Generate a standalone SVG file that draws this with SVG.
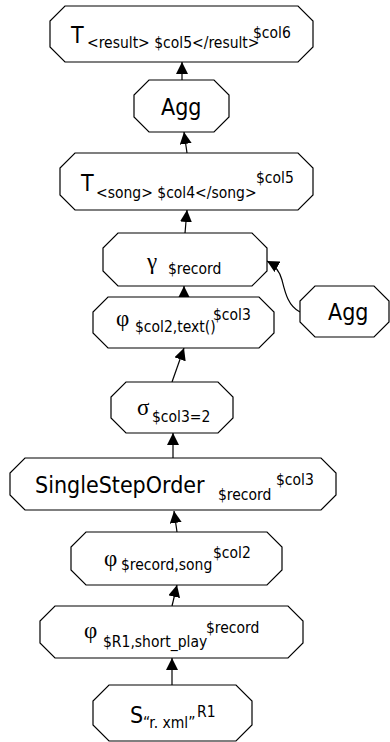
<svg xmlns="http://www.w3.org/2000/svg" width="390" height="742" viewBox="0 0 390 742">
  <style>
    .node { fill: #fff; stroke: #000; stroke-width: 1.2; }
    .edge { fill: none; stroke: #000; stroke-width: 1.2; }
    text { font-family: "DejaVu Sans Condensed", "DejaVu Sans", sans-serif; font-stretch: condensed; fill: #000; }
    .big { font-size: 23px; }
    .sm { font-size: 15.5px; }
    .gr { font-family: "Liberation Serif", "DejaVu Serif", serif; font-stretch: normal; font-size: 23px; }
  </style>
  <defs>
    <marker id="arrow" viewBox="0 0 12 12" refX="12" refY="6" markerWidth="12" markerHeight="12" markerUnits="userSpaceOnUse" orient="auto">
      <path d="M0,0 L12,6 L0,12 Z" fill="#000"/>
    </marker>
  </defs>

  <!-- connectors: each points from the child operator up to its parent -->
  <g id="edges">
    <line class="edge" x1="182" y1="80" x2="182" y2="62" marker-end="url(#arrow)"/>
    <line class="edge" x1="187" y1="153" x2="184" y2="132" marker-end="url(#arrow)"/>
    <line class="edge" x1="185" y1="233" x2="187" y2="210" marker-end="url(#arrow)"/>
    <line class="edge" x1="184" y1="297" x2="184" y2="286" marker-end="url(#arrow)"/>
    <line class="edge" x1="172" y1="382" x2="184" y2="348" marker-end="url(#arrow)"/>
    <line class="edge" x1="173" y1="458" x2="173" y2="433" marker-end="url(#arrow)"/>
    <line class="edge" x1="177" y1="532" x2="174" y2="511" marker-end="url(#arrow)"/>
    <line class="edge" x1="172" y1="606" x2="177" y2="585" marker-end="url(#arrow)"/>
    <line class="edge" x1="172" y1="685" x2="172" y2="658" marker-end="url(#arrow)"/>
    <path class="edge" d="M300,312 C288,306 285,292 282,280 C280,272 276,266 267,261" marker-end="url(#arrow)"/>
  </g>

  <g id="n-result">
    <path class="node" d="M65,6 H298 L313,21 V47 L298,62 H65 L50,47 V21 Z"/>
    <text class="big" x="71" y="43">T</text>
    <text class="sm" x="87" y="48">&lt;result&gt; $col5&lt;/result&gt;</text>
    <text class="sm" x="253" y="38">$col6</text>
  </g>

  <g id="n-agg-top">
    <path class="node" d="M149,80 H214 L229,95 V117 L214,132 H149 L134,117 V95 Z"/>
    <text class="big" x="161" y="115">Agg</text>
  </g>

  <g id="n-song">
    <path class="node" d="M75,153 H298 L313,168 V195 L298,210 H75 L60,195 V168 Z"/>
    <text class="big" x="81" y="191">T</text>
    <text class="sm" x="96" y="198">&lt;song&gt; $col4&lt;/song&gt;</text>
    <text class="sm" x="256" y="183">$col5</text>
  </g>

  <g id="n-gamma">
    <path class="node" d="M118,233 H252 L267,248 V271 L252,286 H118 L103,271 V248 Z"/>
    <text class="gr" x="147" y="269">γ</text>
    <text class="sm" x="168" y="274">$record</text>
  </g>

  <g id="n-agg-side">
    <path class="node" d="M315,286 H374 L389,301 V322 L374,337 H315 L300,322 V301 Z"/>
    <text class="big" x="328" y="320">Agg</text>
  </g>

  <g id="n-phi-text">
    <path class="node" d="M108,297 H259 L274,312 V333 L259,348 H108 L93,333 V312 Z"/>
    <text class="gr" x="116" y="326">φ</text>
    <text class="sm" x="135" y="332">$col2,text()</text>
    <text class="sm" x="213" y="320">$col3</text>
  </g>

  <g id="n-sigma">
    <path class="node" d="M126,382 H218 L233,397 V418 L218,433 H126 L111,418 V397 Z"/>
    <text class="gr" x="137" y="415">σ</text>
    <text class="sm" x="152" y="422">$col3=2</text>
  </g>

  <g id="n-order">
    <path class="node" d="M25,458 H321 L336,473 V495 L321,510 H25 L10,495 V473 Z"/>
    <text class="big" x="35" y="493">SingleStepOrder</text>
    <text class="sm" x="218" y="500">$record</text>
    <text class="sm" x="276" y="485">$col3</text>
  </g>

  <g id="n-phi-song">
    <path class="node" d="M86,532 H267 L282,547 V570 L267,585 H86 L71,570 V547 Z"/>
    <text class="gr" x="104" y="566">φ</text>
    <text class="sm" x="121" y="570">$record,song</text>
    <text class="sm" x="213" y="558">$col2</text>
  </g>

  <g id="n-phi-play">
    <path class="node" d="M55,606 H288 L303,621 V643 L288,658 H55 L40,643 V621 Z"/>
    <text class="gr" x="84" y="638">φ</text>
    <text class="sm" x="103" y="647">$R1,short_play</text>
    <text class="sm" x="206" y="633">$record</text>
  </g>

  <g id="n-scan">
    <path class="node" d="M109,685 H236 L252,701 V725 L236,741 H109 L93,725 V701 Z"/>
    <text class="big" x="130" y="723">S</text>
    <text class="sm" x="143" y="728">“r. xml”</text>
    <text class="sm" x="197" y="717">R1</text>
  </g>
</svg>
